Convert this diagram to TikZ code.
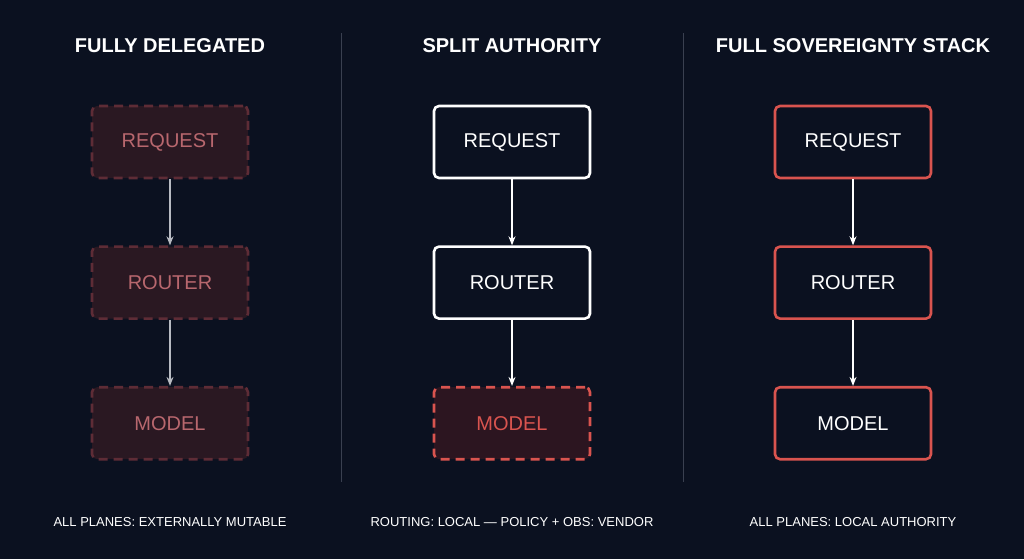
\documentclass[tikz,border=0pt]{standalone}
\usepackage{fontspec}
\setmainfont{Liberation Sans}
\usetikzlibrary{positioning}
\usetikzlibrary{arrows.meta}
\definecolor{bg}{HTML}{0B1120}
\definecolor{mutered}{HTML}{5E2C36}
\definecolor{mutefill}{HTML}{2A1822}
\definecolor{mutetext}{HTML}{B8676E}
\definecolor{hotred}{HTML}{D9544F}
\definecolor{hotfill}{HTML}{2C1520}
\definecolor{divider}{HTML}{3A4050}
\definecolor{arrowgray}{HTML}{9A9EA8}
\tikzset{
  box/.style={draw, rounded corners=5pt, minimum width=156pt, minimum height=72pt,
    line width=2.6pt, font=\fontsize{20}{24}\selectfont},
  muted/.style={box, dashed, dash pattern=on 9pt off 6pt, draw=mutered, fill=mutefill, text=mutetext},
  plain/.style={box, draw=white, text=white},
  vendor/.style={box, dashed, dash pattern=on 9pt off 6pt, draw=hotred, fill=hotfill, text=hotred},
  owned/.style={box, draw=hotred, text=white},
  title/.style={text=white, font=\bfseries\fontsize{20}{24}\selectfont},
  note/.style={text=white, font=\fontsize{13}{16}\selectfont},
  flow/.style={-{Stealth[length=9pt,width=7pt]}, line width=1.2pt},
  node distance=66pt
}
\begin{document}
\begin{tikzpicture}[x=1pt,y=-1pt]
\fill[bg] (0,0) rectangle (1024,559);
\useasboundingbox (0,0) rectangle (1024,559);
% dividers
\draw[divider, line width=1pt] (341,33) -- (341,482);
\draw[divider, line width=1pt] (683,33) -- (683,482);

% fully delegated
\node[title] (t1) at (170,46) {FULLY DELEGATED};
\node[muted] (req1) at (170,142) {REQUEST};
\node[muted, below=of req1] (rtr1) {ROUTER};
\node[muted, below=of rtr1] (mdl1) {MODEL};
\node[note] (n1) at (170,522) {ALL PLANES: EXTERNALLY MUTABLE};
\draw[flow, arrowgray!70] (req1) -- (rtr1);
\draw[flow, arrowgray!70] (rtr1) -- (mdl1);

% split authority
\node[title] (t2) at (512,46) {SPLIT AUTHORITY};
\node[plain] (req2) at (512,142) {REQUEST};
\node[plain, below=of req2] (rtr2) {ROUTER};
\node[vendor, below=of rtr2] (mdl2) {MODEL};
\node[note] (n2) at (512,522) {ROUTING: LOCAL — POLICY + OBS: VENDOR};
\draw[flow, white] (req2) -- (rtr2);
\draw[flow, white] (rtr2) -- (mdl2);

% full sovereignty
\node[title] (t3) at (853,46) {FULL SOVEREIGNTY STACK};
\node[owned] (req3) at (853,142) {REQUEST};
\node[owned, below=of req3] (rtr3) {ROUTER};
\node[owned, below=of rtr3] (mdl3) {MODEL};
\node[note] (n3) at (853,522) {ALL PLANES: LOCAL AUTHORITY};
\draw[flow, white] (req3) -- (rtr3);
\draw[flow, white] (rtr3) -- (mdl3);
\end{tikzpicture}
\end{document}
